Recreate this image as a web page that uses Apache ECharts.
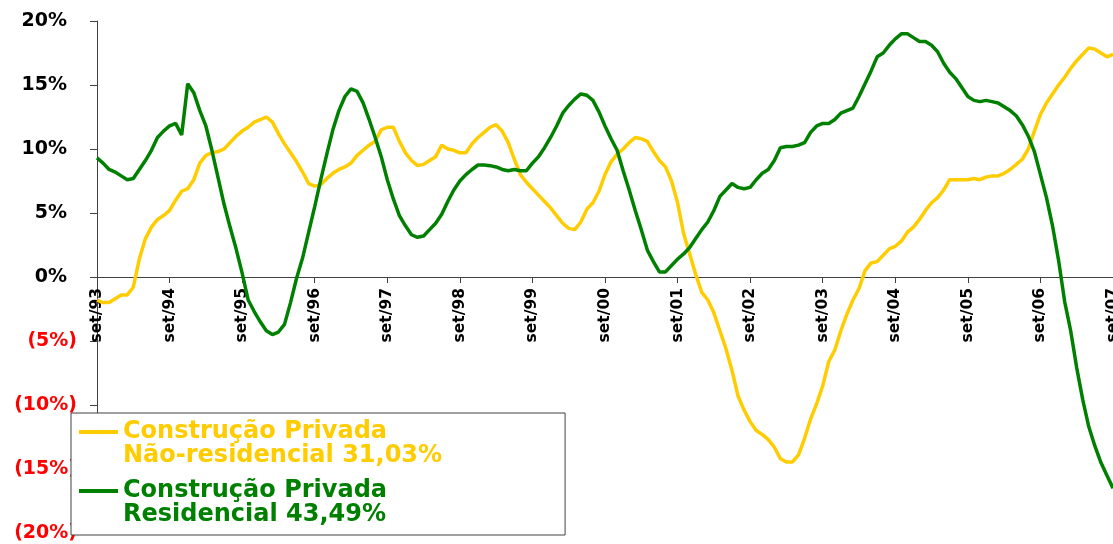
<!DOCTYPE html>
<html lang="pt">
  <head>
    <meta charset="UTF-8" />
    <title>Construção Privada</title>
    <script src="https://cdn.jsdelivr.net/npm/echarts@6.0.0/dist/echarts.min.js"></script>
    <style>
      * {
        padding: 0;
        margin: 0;
      }
      body {
        background: #ffffff;
      }
      #main {
        width: 1113px;
        height: 544px;
      }
    </style>
  </head>
  <body>
    <div id="main"></div>
    <script>
      // meses: set/93 .. set/07
      var monthNames = ["jan", "fev", "mar", "abr", "mai", "jun", "jul", "ago", "set", "out", "nov", "dez"];
      var startYear = 1993;
      var startMonth = 8; // set
      var monthCount = 169;

      var categories = [];
      for (var k = 0; k < monthCount; k++) {
        var m = (startMonth + k) % 12;
        var y = startYear + Math.floor((startMonth + k) / 12);
        categories.push(monthNames[m] + "/" + String(y).slice(2));
      }

      var seriesNames = [
        "Construção Privada\nNão-residencial 31,03%",
        "Construção Privada\nResidencial 43,49%",
      ];

      // Não-residencial (amarelo)
      var naoResidencial = [
        -1.8, -2.0, -2.0, -1.7, -1.4, -1.4, -0.8, 1.4, 3.0, 3.9, 4.5, 4.8,
        5.2, 6.0, 6.7, 6.9, 7.6, 8.9, 9.5, 9.7, 9.8, 10.0, 10.5, 11.0,
        11.4, 11.7, 12.1, 12.3, 12.5, 12.1, 11.2, 10.4, 9.7, 9.0, 8.2, 7.3,
        7.1, 7.2, 7.7, 8.1, 8.4, 8.6, 8.9, 9.5, 9.9, 10.3, 10.6, 11.5,
        11.7, 11.7, 10.6, 9.7, 9.1, 8.7, 8.8, 9.1, 9.4, 10.3, 10.0, 9.9,
        9.7, 9.7, 10.4, 10.9, 11.3, 11.7, 11.9, 11.4, 10.5, 9.2, 8.0, 7.4,
        6.9, 6.4, 5.9, 5.4, 4.8, 4.2, 3.8, 3.7, 4.3, 5.3, 5.8, 6.7,
        8.0, 9.0, 9.6, 10.0, 10.5, 10.9, 10.8, 10.6, 9.8, 9.1, 8.6, 7.5,
        5.8, 3.4, 1.8, 0.2, -1.2, -1.8, -2.8, -4.2, -5.6, -7.3, -9.3, -10.4,
        -11.3, -12.0, -12.3, -12.7, -13.3, -14.2, -14.45, -14.45, -13.9, -12.6, -11.1, -9.9,
        -8.5, -6.6, -5.7, -4.2, -2.9, -1.8, -0.9, 0.5, 1.1, 1.2, 1.7, 2.2,
        2.4, 2.8, 3.5, 3.9, 4.5, 5.2, 5.8, 6.2, 6.8, 7.6, 7.6, 7.6,
        7.6, 7.7, 7.6, 7.8, 7.9, 7.9, 8.1, 8.4, 8.8, 9.2, 10.0, 11.4,
        12.7, 13.6, 14.3, 15.0, 15.6, 16.3, 16.9, 17.4, 17.9, 17.8, 17.5, 17.2,
        17.4,
      ];

      // Residencial (verde)
      var residencial = [
        9.3, 8.9, 8.4, 8.2, 7.9, 7.6, 7.7, 8.4, 9.1, 9.9, 10.9, 11.4,
        11.8, 12.0, 11.1, 15.1, 14.4, 13.0, 11.8, 9.9, 7.8, 5.7, 3.9, 2.2,
        0.3, -1.8, -2.7, -3.5, -4.2, -4.5, -4.3, -3.7, -2.0, -0.1, 1.5, 3.5,
        5.5, 7.6, 9.6, 11.5, 13.0, 14.1, 14.7, 14.5, 13.6, 12.3, 10.9, 9.4,
        7.6, 6.1, 4.8, 4.0, 3.3, 3.1, 3.2, 3.7, 4.2, 4.9, 5.9, 6.8,
        7.5, 8.0, 8.4, 8.75, 8.75, 8.7, 8.6, 8.4, 8.3, 8.4, 8.3, 8.3,
        8.9, 9.4, 10.1, 10.9, 11.8, 12.8, 13.4, 13.9, 14.3, 14.2, 13.8, 12.9,
        11.8, 10.8, 9.9, 8.3, 6.8, 5.2, 3.7, 2.1, 1.2, 0.4, 0.4, 0.9,
        1.4, 1.8, 2.3, 3.0, 3.7, 4.3, 5.2, 6.3, 6.8, 7.3, 7.0, 6.9,
        7.0, 7.6, 8.1, 8.4, 9.1, 10.1, 10.2, 10.2, 10.3, 10.5, 11.3, 11.8,
        12.0, 12.0, 12.3, 12.8, 13.0, 13.2, 14.1, 15.1, 16.1, 17.2, 17.5, 18.1,
        18.6, 19.0, 19.0, 18.7, 18.4, 18.4, 18.1, 17.6, 16.7, 16.0, 15.5, 14.8,
        14.1, 13.8, 13.7, 13.8, 13.7, 13.6, 13.3, 13.0, 12.6, 11.9, 11.0, 9.8,
        8.0, 6.2, 4.0, 1.3, -1.9, -4.2, -7.1, -9.6, -11.7, -13.2, -14.5, -15.5,
        -16.5,
      ];

      var colors = ["#FFCC00", "#008000"];
      var yMin = -20;
      var yMax = 20;
      var yStep = 5;

      var myChart = echarts.init(document.getElementById("main"));
      var labelFont = "DejaVu Sans";

      // linha da legenda na altura da primeira linha do texto
      var legendIcon = "path://M0,10H39V14H0Z M0,0H0.01V0.01H0Z M0,47.99H0.01V48H0Z";

      option = {
        backgroundColor: "#ffffff",
        animation: false,
        grid: {
          left: 97,
          right: 0,
          top: 21,
          bottom: 11,
          containLabel: false,
          outerBoundsMode: "none",
        },
        legend: {
          orient: "vertical",
          left: 71,
          top: 413,
          padding: [7, 123, 8, 8],
          borderColor: "#404040",
          borderWidth: 1,
          backgroundColor: "#ffffff",
          itemWidth: 39,
          itemHeight: 48,
          itemGap: 11,
          selectedMode: false,
          icon: legendIcon,
          itemStyle: { borderWidth: 0 },
          textStyle: {
            fontFamily: labelFont,
            fontWeight: "bold",
            fontSize: 24,
            lineHeight: 24,
          },
          data: [
            { name: seriesNames[0], textStyle: { color: colors[0] } },
            { name: seriesNames[1], textStyle: { color: colors[1] } },
          ],
        },
        xAxis: [
          {
            type: "category",
            boundaryGap: false,
            data: categories,
            // eixo na linha do zero
            offset: -256,
            axisLine: {
              show: true,
              onZero: false,
              lineStyle: { color: "#404040", width: 1 },
            },
            axisTick: {
              show: true,
              interval: 11,
              length: 6,
              lineStyle: { color: "#404040" },
            },
            axisLabel: {
              interval: 11,
              rotate: 90,
              margin: 11,
              color: "#000000",
              fontFamily: labelFont,
              fontWeight: "bold",
              fontSize: 15.5,
            },
            splitLine: { show: false },
          },
        ],
        yAxis: [
          {
            type: "value",
            min: yMin,
            max: yMax,
            interval: yStep,
            axisLine: {
              show: true,
              lineStyle: { color: "#404040", width: 1 },
            },
            axisTick: {
              show: true,
              length: 7,
              lineStyle: { color: "#404040" },
            },
            splitLine: { show: false },
            axisLabel: {
              margin: 20,
              fontFamily: labelFont,
              fontWeight: "bold",
              fontSize: 19,
              formatter: function (v) {
                return v < 0 ? "{n|(" + -v + "%)}" : "{p|" + v + "%}";
              },
              rich: {
                p: {
                  color: "#000000",
                  fontFamily: labelFont,
                  fontWeight: "bold",
                  fontSize: 19,
                  padding: [0, 10, 0, 0],
                },
                n: {
                  color: "#FF0000",
                  fontFamily: labelFont,
                  fontWeight: "bold",
                  fontSize: 19,
                },
              },
            },
          },
        ],
        series: [
          {
            name: seriesNames[0],
            type: "line",
            symbol: "none",
            smooth: false,
            data: naoResidencial,
            itemStyle: { color: colors[0] },
            lineStyle: { color: colors[0], width: 3.5 },
          },
          {
            name: seriesNames[1],
            type: "line",
            symbol: "none",
            smooth: false,
            data: residencial,
            itemStyle: { color: colors[1] },
            lineStyle: { color: colors[1], width: 3.5 },
          },
        ],
      };
      myChart.setOption(option);
    </script>
  </body>
</html>
